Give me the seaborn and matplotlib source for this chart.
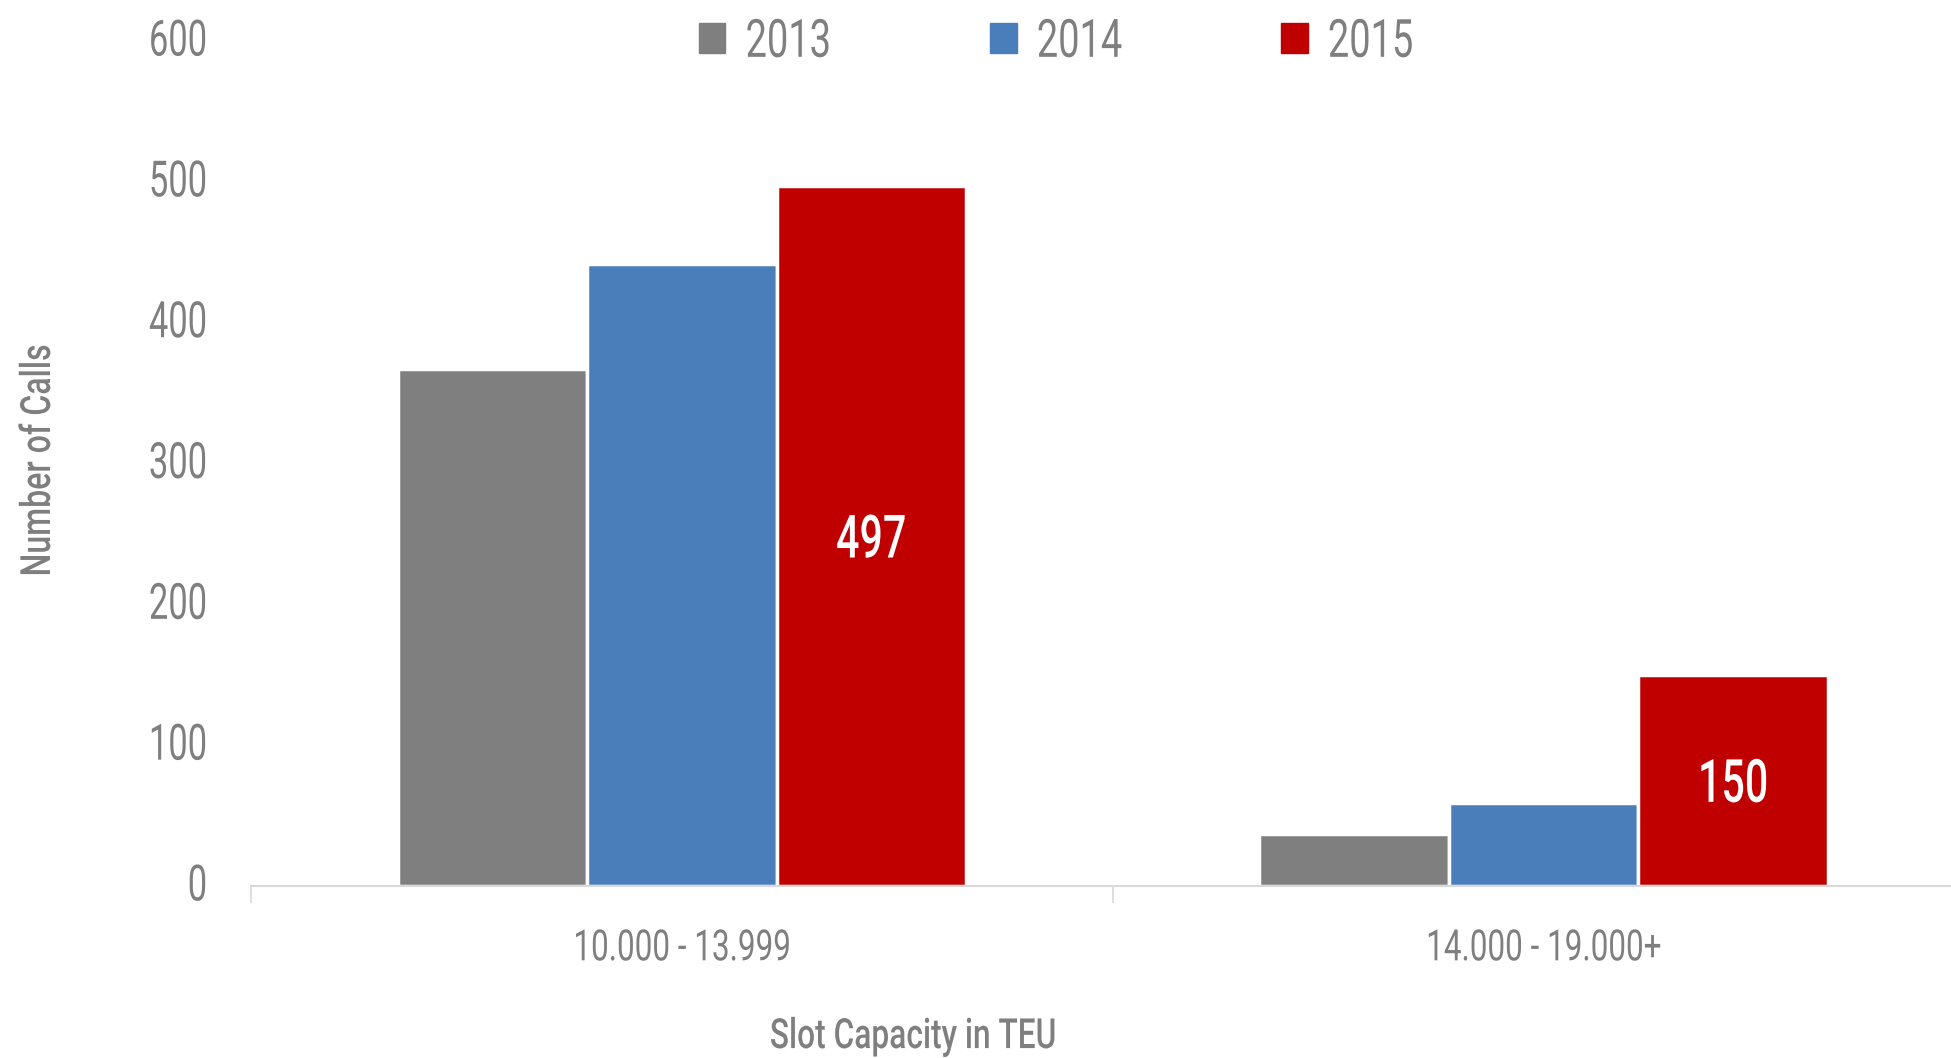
import matplotlib
matplotlib.use('Agg')
import matplotlib.pyplot as plt
from matplotlib.patheffects import AbstractPathEffect
from matplotlib.transforms import Affine2D
import seaborn as sns
import pandas as pd

capacity = ['10.000 - 13.999', '14.000 - 19.000+']
years = ['2013', '2014', '2015']
calls_2013 = [367, 37]
calls_2014 = [442, 59]
calls_2015 = [497, 150]
colors = ['#7f7f7f', '#4a7ebb', '#c00000']
yticks = [0, 100, 200, 300, 400, 500, 600]

sns.set_style('white')
plt.rcParams['font.family'] = ['Roboto', 'DejaVu Sans']
txt = '#7f7f7f'


class Squeeze(AbstractPathEffect):
    # narrows glyphs horizontally to mimic a condensed face
    def __init__(self, sx=0.7, anchor='center', dy=0):
        super().__init__()
        self.sx = sx
        self.anchor = anchor
        self.dy = dy

    def draw_path(self, renderer, gc, tpath, affine, rgbFace=None):
        ext = tpath.get_extents()
        if self.anchor == 'left':
            cx = ext.x0
        elif self.anchor == 'right':
            cx = ext.x1
        else:
            cx = (ext.x0 + ext.x1) / 2
        t = (Affine2D().translate(-cx, 0).scale(self.sx, 1).translate(cx, 0)
             + affine + Affine2D().translate(0, self.dy))
        renderer.draw_path(gc, tpath, t, rgbFace)


rows = []
for yr, vals in zip(years, [calls_2013, calls_2014, calls_2015]):
    for cap, v in zip(capacity, vals):
        rows.append({'capacity': cap, 'year': yr, 'calls': v})
df = pd.DataFrame(rows)

fig = plt.figure(figsize=(19.51, 10.58), dpi=100)
ax = fig.add_axes([0.1287, 0.1626, 0.8831, 0.7986])

sns.barplot(data=df, x='capacity', y='calls', hue='year', order=capacity,
            hue_order=years, palette=colors, saturation=1, width=0.66,
            edgecolor='white', linewidth=2.5, ax=ax)

ax.set_xlim(-0.5, 1.5)
ax.set_ylim(0, 600)
ax.set_yticks(yticks)
ax.tick_params(axis='y', length=0, pad=31, labelsize=36, labelcolor=txt)
ax.tick_params(axis='x', which='major', length=0, pad=30.5, labelsize=31, labelcolor=txt)
ax.set_xticks([-0.5, 0.5, 1.5], minor=True)
ax.tick_params(axis='x', which='minor', bottom=True, length=12, width=1.2,
               color='#d9d9d9')

for s in ['top', 'right', 'left']:
    ax.spines[s].set_visible(False)
ax.spines['bottom'].set_color('#d9d9d9')
ax.spines['bottom'].set_linewidth(1.5)

ax.set_ylabel('Number of Calls', fontsize=30, color=txt, fontweight='medium')
ax.yaxis.set_label_coords(-0.1115, 0.503)
ax.set_xlabel('Slot Capacity in TEU', fontsize=30, color=txt, va='top', fontweight='medium')
ax.xaxis.set_label_coords(0.384, -0.154)

# only the 2015 bars carry a value label
lbls = ax.bar_label(ax.containers[2], label_type='center', color='white',
                    fontsize=43, fontweight='medium')

if ax.legend_ is not None:
    ax.legend_.remove()
handles = [plt.Rectangle((0, 0), 1, 1, color=c) for c in colors]
leg = fig.legend(handles, years, loc='center left',
                 bbox_to_anchor=(699 / 1951, 0.960), ncol=3, frameon=False,
                 fontsize=38, handlelength=0.5, handleheight=0.5,
                 handletextpad=0.37, columnspacing=2.4, borderpad=0,
                 borderaxespad=0)

for t in ax.get_yticklabels():
    t.set_path_effects([Squeeze(0.69, 'right', dy=4.5)])
for t in ax.get_xticklabels():
    t.set_path_effects([Squeeze(0.73)])
ax.yaxis.label.set_path_effects([Squeeze(0.77)])
ax.xaxis.label.set_path_effects([Squeeze(0.76)])
for t in lbls:
    t.set_path_effects([Squeeze(0.69, dy=-5)])
for t in leg.get_texts():
    t.set_color(txt)
    t.set_path_effects([Squeeze(0.72, 'left')])

fig.savefig('out.png', dpi=100)
